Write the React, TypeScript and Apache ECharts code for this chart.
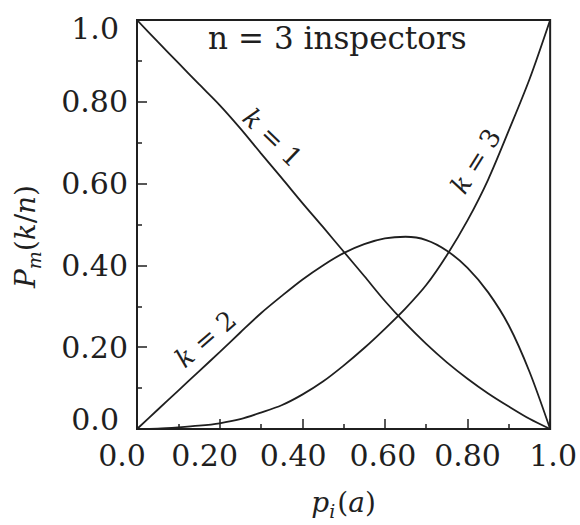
import { useEffect, useRef } from "react";
import * as echarts from "echarts";

// Probability of a single inspector detecting the defect, p_i(a)
const detectionProbability = [
  0, 0.05, 0.1, 0.15, 0.2, 0.25, 0.3, 0.35, 0.4, 0.45, 0.5,
  0.55, 0.6, 0.65, 0.7, 0.75, 0.8, 0.85, 0.9, 0.95, 1.0,
];
// P_m(k/n) for n = 3 inspectors
const pmK1 = [
  1.0, 0.947, 0.895, 0.843, 0.792, 0.735, 0.674, 0.614, 0.553, 0.494, 0.434,
  0.374, 0.313, 0.258, 0.208, 0.163, 0.123, 0.087, 0.055, 0.025, 0,
];
const pmK2 = [
  0, 0.047, 0.094, 0.141, 0.188, 0.236, 0.283, 0.325, 0.365, 0.4, 0.43,
  0.452, 0.466, 0.47, 0.462, 0.436, 0.394, 0.334, 0.253, 0.14, 0,
];
const pmK3 = [
  0, 0.001, 0.004, 0.008, 0.014, 0.024, 0.04, 0.058, 0.084, 0.116, 0.155,
  0.198, 0.245, 0.295, 0.352, 0.425, 0.51, 0.61, 0.73, 0.855, 1.0,
];
const tickLabels = ["0.0", "0.20", "0.40", "0.60", "0.80", "1.0"];
const curveNames = ["k = 1", "k = 2", "k = 3"];

const SERIF = "DejaVu Serif";
const INK = "#1f1f1f";

const pairs = (ys: number[]) => detectionProbability.map((p, i) => [p, ys[i]]);

const tickFormatter = (v: number) => {
  const i = Math.round(v * 5);
  return `{t${i}|${tickLabels[i]}}`;
};

const roman = (size: number) => ({
  fontFamily: SERIF,
  fontSize: size,
  fontStyle: "normal" as const,
  fontWeight: "normal" as const,
  color: INK,
});
const italic = (size: number) => ({ ...roman(size), fontStyle: "italic" as const });
const labelText = roman(30);

// where each curve's "k = …" tag sits (data coordinates) and its slant in degrees
const curveTags = [
  { coord: [0.328, 0.712], rotate: -44 },
  { coord: [0.166, 0.22], rotate: 41 },
  { coord: [0.82, 0.655], rotate: 58 },
];

export default function App() {
  const ref = useRef<HTMLDivElement>(null);

  useEffect(() => {
    if (!ref.current) return;
    const chart = echarts.init(ref.current, null, { renderer: "svg" });

    const axisCommon = {
      type: "value" as const,
      min: 0,
      max: 1,
      interval: 0.2,
      splitLine: { show: false },
      axisLine: { show: true, lineStyle: { color: INK, width: 2 } },
      axisTick: { show: true, inside: true, length: 10, lineStyle: { color: INK, width: 1.5 } },
      minorTick: { show: true, splitNumber: 2, length: 5, lineStyle: { color: INK, width: 1.5 } },
    };

    chart.setOption({
      animation: false,
      backgroundColor: "#ffffff",
      textStyle: { fontFamily: SERIF },
      title: {
        text: "{a|n}{b|=}{a|3 inspectors}",
        left: 208,
        top: 22,
        padding: 0,
        textStyle: {
          ...roman(31),
          rich: {
            a: roman(31),
            b: { ...roman(31), padding: [0, 10, 0, 10] },
          },
        },
      },
      grid: {
        left: 137,
        top: 20,
        right: 28,
        bottom: 93,
        show: true,
        borderColor: INK,
        borderWidth: 2,
        backgroundColor: "transparent",
      },
      xAxis: {
        ...axisCommon,
        name: "{i|p}{s|i}{r|(}{i|a}{r|)}",
        nameLocation: "middle",
        nameGap: 55,
        nameTextStyle: {
          ...roman(28),
          rich: {
            i: { ...italic(28), lineHeight: 36, verticalAlign: "middle" },
            r: { ...roman(28), lineHeight: 36, verticalAlign: "middle" },
            s: { ...italic(19), lineHeight: 21, verticalAlign: "bottom", padding: [0, 2, 0, 0] },
          },
        },
        axisLabel: {
          ...labelText,
          margin: 11,
          formatter: tickFormatter,
          rich: {
            t0: { ...labelText, padding: [0, 30, 0, 0] },
            t1: { ...labelText, padding: [0, 30, 0, 0] },
            t2: { ...labelText, padding: [0, 18, 0, 0] },
            t3: { ...labelText, padding: [0, 4, 0, 0] },
            t4: { ...labelText },
            t5: { ...labelText, padding: [0, 0, 0, 6] },
          },
        },
      },
      yAxis: {
        ...axisCommon,
        name: "{i|P}{s|m}{r|(}{i|k}{r|/}{i|n}{e|)}",
        nameLocation: "middle",
        nameRotate: 90,
        nameGap: 94,
        nameTextStyle: {
          ...roman(28),
          rich: {
            i: { ...italic(28), lineHeight: 36, verticalAlign: "middle" },
            r: { ...roman(28), lineHeight: 36, verticalAlign: "middle" },
            e: { ...roman(28), lineHeight: 36, verticalAlign: "middle", padding: [0, 24, 0, 0] },
            s: { ...italic(19), lineHeight: 21, verticalAlign: "bottom" },
          },
        },
        axisLabel: {
          ...labelText,
          margin: 9,
          formatter: tickFormatter,
          rich: {
            t0: { ...labelText, padding: [0, 9, 20, 0] },
            t1: { ...labelText },
            t2: { ...labelText },
            t3: { ...labelText },
            t4: { ...labelText },
            t5: { ...labelText, padding: [16, 9, 0, 0] },
          },
        },
      },
      series: [pmK1, pmK2, pmK3].map((ys, i) => {
        const [kSym, ...rest] = curveNames[i].split(" ");
        return {
          name: curveNames[i],
          type: "line",
          data: pairs(ys),
          smooth: 0.3,
          showSymbol: false,
          lineStyle: { color: INK, width: 1.8 },
          markPoint: {
            silent: true,
            symbol: "circle",
            symbolSize: 0,
            data: [
              {
                coord: curveTags[i].coord,
                label: {
                  show: true,
                  position: "inside",
                  rotate: curveTags[i].rotate,
                  formatter: `{i|${kSym}}{r| ${rest.join(" ")}}`,
                  rich: { i: italic(26), r: roman(26) },
                },
              },
            ],
          },
        };
      }),
    });

    return () => chart.dispose();
  }, []);

  return <div ref={ref} style={{ width: 580, height: 525, position: "absolute", left: 0, top: 0 }} />;
}
